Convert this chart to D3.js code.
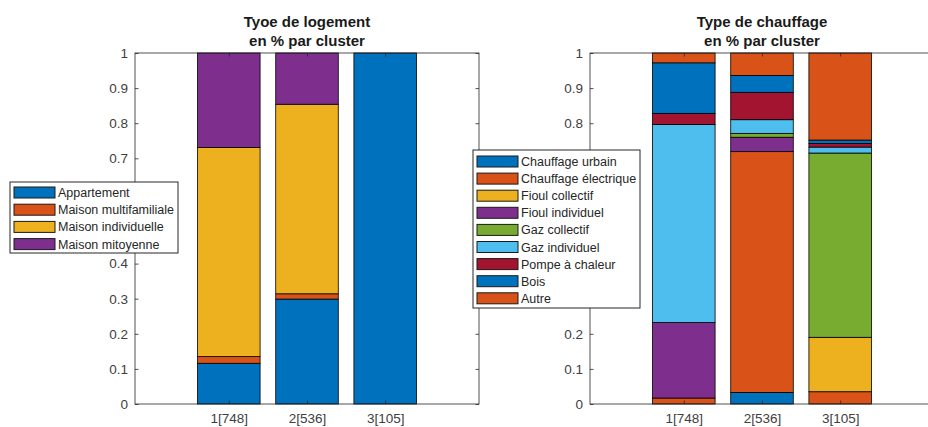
<!DOCTYPE html>
<html><head><meta charset="utf-8">
<script src="https://cdn.jsdelivr.net/npm/d3@7"></script>
<style>body{margin:0;background:#fff;} svg{display:block;font-family:"Liberation Sans",Arial,sans-serif;}</style>
</head><body>
<svg id="chart" width="928" height="427"></svg>
<script>
// ---- Data ----
const clusters = ["1[748]", "2[536]", "3[105]"];
const yTicks = [0, 0.1, 0.2, 0.3, 0.4, 0.5, 0.6, 0.7, 0.8, 0.9, 1];

const logementTypes = ["Appartement", "Maison multifamiliale", "Maison individuelle", "Maison mitoyenne"];
const appartement    = [0.116, 0.299, 1.0];
const multifamiliale = [0.019, 0.015, 0];
const individuelle   = [0.596, 0.540, 0];
const mitoyenne      = [0.269, 0.146, 0];

const chauffageTypes = ["Chauffage urbain", "Chauffage électrique", "Fioul collectif", "Fioul individuel",
  "Gaz collectif", "Gaz individuel", "Pompe à chaleur", "Bois", "Autre"];
const urbain          = [0, 0.033, 0];
const electrique      = [0.017, 0.686, 0.035];
const fioulCollectif  = [0, 0, 0.155];
const fioulIndividuel = [0.215, 0.041, 0];
const gazCollectif    = [0, 0.011, 0.525];
const gazIndividuel   = [0.564, 0.039, 0.017];
const pompe           = [0.032, 0.078, 0.010];
const bois            = [0.144, 0.048, 0.010];
const autre           = [0.028, 0.064, 0.248];

const matlabColors = ["#0072BD", "#D95319", "#EDB120", "#7E2F8E", "#77AC30", "#4DBEEE", "#A2142F", "#0072BD", "#D95319"];

const svg = d3.select("#chart");
const axisColor = "#262626";

function drawPanel(cfg) {
  const {x0, x1, y0, y1, keys, series, title, hidden} = cfg;
  const rows = clusters.map((c, i) => {
    const r = {cluster: c, idx: i + 1};
    keys.forEach((k, j) => r[k] = series[j][i]);
    return r;
  });
  const stacked = d3.stack().keys(keys)(rows);
  const x = d3.scaleLinear().domain([-0.2, 4.2]).range([x0, x1]);
  const y = d3.scaleLinear().domain([0, 1]).range([y1, y0]);
  const barW = (x(1) - x(0)) * 0.8;
  const color = d3.scaleOrdinal().domain(keys).range(matlabColors);

  const g = svg.append("g");
  g.selectAll("g.layer").data(stacked).join("g").attr("class", "layer")
    .attr("fill", d => color(d.key))
    .selectAll("rect").data(d => d).join("rect")
    .attr("x", d => x(d.data.idx) - barW / 2)
    .attr("width", barW)
    .attr("y", d => y(d[1]))
    .attr("height", d => Math.max(0, y(d[0]) - y(d[1])))
    .attr("stroke", "#000").attr("stroke-width", 0.8);

  // box
  g.append("rect").attr("x", x0).attr("y", y0).attr("width", x1 - x0).attr("height", y1 - y0)
    .attr("fill", "none").attr("stroke", axisColor).attr("stroke-width", 0.8);

  const tickLen = 3.5;
  // tick labels lying under the legend box are not visible in the reference
  const fmt = d => (hidden(y(d)) ? "" : d3.format("")(d));
  const yAx = g.append("g").attr("transform", `translate(${x0},0)`)
    .call(d3.axisLeft(y).tickValues(yTicks).tickFormat(fmt).tickSizeInner(-tickLen).tickSizeOuter(0).tickPadding(7));
  const yAxR = g.append("g").attr("transform", `translate(${x1},0)`)
    .call(d3.axisRight(y).tickValues(yTicks).tickFormat("").tickSizeInner(-tickLen).tickSizeOuter(0));
  const xAx = g.append("g").attr("transform", `translate(0,${y1})`)
    .call(d3.axisBottom(x).tickValues([1, 2, 3]).tickFormat(d => clusters[d - 1]).tickSizeInner(-tickLen).tickSizeOuter(0).tickPadding(9));
  const xAxT = g.append("g").attr("transform", `translate(0,${y0})`)
    .call(d3.axisTop(x).tickValues([1, 2, 3]).tickFormat("").tickSizeInner(-tickLen).tickSizeOuter(0));
  [yAx, yAxR, xAx, xAxT].forEach(a => {
    a.select(".domain").remove();
    a.selectAll("line").attr("stroke", axisColor).attr("stroke-width", 0.8);
    a.selectAll("text").attr("fill", "#404040").style("font-size", "13.5px").attr("font-family", null);
  });

  const cx = (x0 + x1) / 2;
  g.append("text").attr("x", cx).attr("y", 27).attr("text-anchor", "middle")
    .style("font-size", "15px").style("font-weight", "bold").attr("fill", "#1a1a1a").text(title[0]);
  g.append("text").attr("x", cx).attr("y", 46).attr("text-anchor", "middle")
    .style("font-size", "15px").style("font-weight", "bold").attr("fill", "#1a1a1a").text(title[1]);
  return color;
}

function drawLegend(cfg) {
  const {x0, y0, w, h, keys, color, firstY, step} = cfg;
  const g = svg.append("g");
  g.append("rect").attr("x", x0).attr("y", y0).attr("width", w).attr("height", h)
    .attr("fill", "#fff").attr("stroke", axisColor).attr("stroke-width", 1);
  keys.forEach((k, i) => {
    const cy = firstY + i * step;
    g.append("rect").attr("x", x0 + 4).attr("y", cy - 5.5).attr("width", 41).attr("height", 11)
      .attr("fill", color(k)).attr("stroke", "#1a1a1a").attr("stroke-width", 1);
    g.append("text").attr("x", x0 + 48).attr("y", cy).attr("dy", "0.36em")
      .style("font-size", "12.5px").attr("fill", "#262626").text(k);
  });
}

const legL = {x0: 10, y0: 182, w: 168, h: 71};
const legR = {x0: 473, y0: 150, w: 167, h: 158};

const colL = drawPanel({x0: 135, x1: 479, y0: 53, y1: 404, keys: logementTypes,
  series: [appartement, multifamiliale, individuelle, mitoyenne], title: ["Tyoe de logement", "en % par cluster"],
  hidden: py => py > legL.y0 - 6 && py < legL.y0 + legL.h + 6});
const colR = drawPanel({x0: 590, x1: 934, y0: 53, y1: 404, keys: chauffageTypes,
  series: [urbain, electrique, fioulCollectif, fioulIndividuel, gazCollectif, gazIndividuel, pompe, bois, autre],
  title: ["Type de chauffage", "en % par cluster"],
  hidden: py => py > legR.y0 - 6 && py < legR.y0 + legR.h + 6});

drawLegend({...legL, keys: logementTypes, color: colL, firstY: 192.5, step: 17.2});
drawLegend({...legR, keys: chauffageTypes, color: colR, firstY: 161.5, step: 17.1});
</script>
</body></html>
